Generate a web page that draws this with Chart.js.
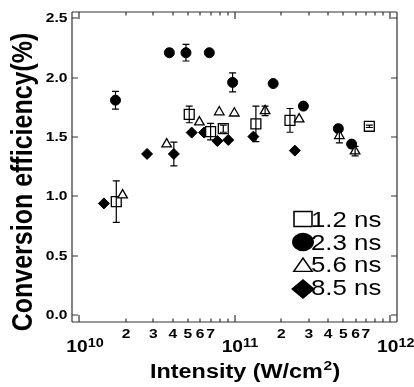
<!DOCTYPE html>
<html><head><meta charset="utf-8">
<script src="https://cdn.jsdelivr.net/npm/chart.js@4.4.1/dist/chart.umd.min.js"></script>
<style>html,body{margin:0;padding:0;background:#fff}canvas{display:block}</style>
</head><body>
<canvas id="c" width="414" height="387"></canvas>
<script>
// ---------- data ----------
const SERIES_NAMES = ['1.2 ns', '2.3 ns', '5.6 ns', '8.5 ns'];

const x12 = [1.73e10, 5.1e10, 7.0e10, 8.45e10, 1.37e11, 2.27e11, 7.36e11];
const y12 = [0.955, 1.69, 1.545, 1.57, 1.61, 1.64, 1.59];
const e12 = [0.175, 0.07, 0.07, 0.03, 0.15, 0.10, 0.01];

const x23 = [1.71e10, 3.8e10, 4.86e10, 6.87e10, 9.7e10, 1.77e11, 2.77e11, 4.65e11, 5.66e11];
const y23 = [1.81, 2.21, 2.21, 2.21, 1.96, 1.95, 1.76, 1.57, 1.44];
const e23 = [0.075, 0.03, 0.07, 0, 0.08, 0, 0, 0.03, 0.03];

const x56 = [1.9e10, 3.65e10, 5.93e10, 7.96e10, 9.95e10, 1.57e11, 2.6e11, 4.72e11, 5.96e11];
const y56 = [1.01, 1.44, 1.625, 1.71, 1.70, 1.72, 1.65, 1.51, 1.38];
const e56 = [0, 0, 0, 0, 0, 0.04, 0, 0.06, 0.04];

const x85 = [1.44e10, 2.73e10, 4.06e10, 5.29e10, 6.35e10, 7.74e10, 9.1e10, 1.32e11, 2.44e11];
const y85 = [0.94, 1.357, 1.357, 1.537, 1.537, 1.466, 1.475, 1.503, 1.385];
const e85 = [0, 0, 0.1, 0, 0, 0, 0, 0.02, 0];

// ---------- tick labels ----------
const X_DECADE_EXPONENTS = [10, 11, 12];
const X_MINOR_MULTIPLIERS = [2, 3, 4, 5, 6, 7, 8, 9];
const X_MINOR_LABELS = ['2', '3', '4', '5', '6', '7'];
const Y_TICKS = [0, 0.5, 1.0, 1.5, 2.0, 2.5];
const X_TITLE = 'Intensity (W/cm';
const X_TITLE_SUP = '2';
const X_TITLE_END = ')';
const Y_TITLE = 'Conversion efficiency(%)';

// ---------- styling helpers ----------
const FONT = '"Liberation Sans", Arial, Helvetica, sans-serif';
const SX = 1.2; // horizontal stretch of the reference picture

function pts(xs, ys) { return xs.map((v, i) => ({ x: v, y: ys[i] })); }

function txt(ctx, s, x, y, font, align, baseline) {
  ctx.save();
  ctx.font = font; ctx.textAlign = align; ctx.textBaseline = baseline;
  ctx.fillStyle = '#000';
  ctx.translate(x, y); ctx.scale(SX, 1);
  ctx.fillText(s, 0, 0);
  ctx.restore();
}
function measure(ctx, s, font) { ctx.save(); ctx.font = font; const w = ctx.measureText(s).width; ctx.restore(); return w * SX; }

function marker(ctx, style, x, y, r, fill) {
  ctx.save();
  ctx.translate(x, y); ctx.scale(SX, 1);
  ctx.beginPath();
  if (style === 'circle') ctx.arc(0, 0, r, 0, Math.PI * 2);
  else if (style === 'rect') { const s = r * Math.SQRT1_2; ctx.rect(-s, -s, 2 * s, 2 * s); }
  else if (style === 'triangle') {
    for (let k = 0; k < 3; k++) {
      const a = k * 2 * Math.PI / 3;
      const px = Math.sin(a) * r, py = -Math.cos(a) * r;
      if (k === 0) ctx.moveTo(px, py); else ctx.lineTo(px, py);
    }
    ctx.closePath();
  } else if (style === 'rectRot') {
    ctx.moveTo(-r, 0); ctx.lineTo(0, -r); ctx.lineTo(r, 0); ctx.lineTo(0, r); ctx.closePath();
  }
  ctx.fillStyle = fill; ctx.strokeStyle = '#000'; ctx.lineWidth = 1.3;
  ctx.fill(); ctx.stroke();
  ctx.restore();
}

function isMajor(v) {
  const l = Math.log10(v);
  return Math.abs(l - Math.round(l)) < 1e-6;
}
function minorLabel(v) {
  const m = Math.round(v / Math.pow(10, Math.floor(Math.log10(v) + 1e-9)));
  const s = String(m);
  return X_MINOR_LABELS.includes(s) ? s : '';
}

const ERRORS = [e12, e23, e56, e85];

function drawFrame(chart) {
  const ctx = chart.ctx, xs = chart.scales.x, ys = chart.scales.y;
  const L = Math.round(chart.chartArea.left);
  const R = Math.round(chart.chartArea.right);
  const T = Math.round(chart.chartArea.top);
  const B = Math.round(chart.chartArea.bottom);
  ctx.save();
  ctx.setLineDash([]);
  ctx.strokeStyle = '#333';
  ctx.lineWidth = 1.2;
  ctx.beginPath();
  ctx.moveTo(L, T); ctx.lineTo(R, T);
  ctx.moveTo(R, T); ctx.lineTo(R, B);
  ctx.moveTo(R, B); ctx.lineTo(L, B);
  ctx.moveTo(L, B); ctx.lineTo(L, T);
  ctx.stroke();
  ctx.beginPath();
  xs.ticks.forEach(t => {
    const px = Math.round(xs.getPixelForValue(t.value));
    const len = isMajor(t.value) ? 7 : 3.5;
    ctx.moveTo(px, B); ctx.lineTo(px, B - len);
    ctx.moveTo(px, T); ctx.lineTo(px, T + len);
  });
  ys.ticks.forEach(t => {
    const py = Math.round(ys.getPixelForValue(t.value));
    ctx.moveTo(L, py); ctx.lineTo(L + 6, py);
    ctx.moveTo(R, py); ctx.lineTo(R - 6, py);
  });
  ctx.stroke();
  ctx.restore();
}

const errorBars = {
  id: 'errorBars',
  afterDatasetsDraw(chart) {
    const ctx = chart.ctx, xs = chart.scales.x, ys = chart.scales.y;
    ctx.save();
    ctx.strokeStyle = '#000'; ctx.lineWidth = 1.2;
    chart.data.datasets.forEach((ds, di) => {
      const errs = ERRORS[di];
      ds.data.forEach((p, i) => {
        const e = errs[i];
        if (!e) return;
        const px = xs.getPixelForValue(p.x);
        const yt = ys.getPixelForValue(p.y + e);
        const yb = ys.getPixelForValue(p.y - e);
        ctx.beginPath();
        ctx.moveTo(px, yt); ctx.lineTo(px, yb);
        ctx.moveTo(px - 3.5, yt); ctx.lineTo(px + 3.5, yt);
        ctx.moveTo(px - 3.5, yb); ctx.lineTo(px + 3.5, yb);
        ctx.stroke();
      });
    });
    ctx.restore();
    drawFrame(chart);
  }
};

const frameAndText = {
  id: 'frameAndText',
  afterDraw(chart) {
    const ctx = chart.ctx, xs = chart.scales.x, ys = chart.scales.y;
    const L = Math.round(chart.chartArea.left);
    const B = Math.round(chart.chartArea.bottom);

    // y tick labels
    const yFont = 'bold 13px ' + FONT;
    ys.ticks.forEach(t => {
      txt(ctx, t.value.toFixed(1), L - 4.5, ys.getPixelForValue(t.value) + 0.5, yFont, 'right', 'middle');
    });
    // x tick labels
    const minorFont = 'bold 13px ' + FONT;
    const bigFont = 'bold 16px ' + FONT;
    const supFont = 'bold 12px ' + FONT;
    xs.ticks.forEach(t => {
      const px = xs.getPixelForValue(t.value);
      if (isMajor(t.value)) {
        const exp = String(Math.round(Math.log10(t.value)));
        const x0 = px - 13;
        txt(ctx, '10', x0, B + 30, bigFont, 'left', 'alphabetic');
        txt(ctx, exp, x0 + measure(ctx, '10', bigFont), B + 25, supFont, 'left', 'alphabetic');
      } else {
        const lb = minorLabel(t.value);
        if (lb) txt(ctx, lb, px, B + 16, minorFont, 'center', 'alphabetic');
      }
    });
    // x title
    const tFont = 'bold 19.5px ' + FONT;
    const tSup = 'bold 13px ' + FONT;
    let tx = 150, ty = 378;
    txt(ctx, X_TITLE, tx, ty, tFont, 'left', 'alphabetic'); tx += measure(ctx, X_TITLE, tFont);
    txt(ctx, X_TITLE_SUP, tx + 0.5, ty - 8, tSup, 'left', 'alphabetic'); tx += measure(ctx, X_TITLE_SUP, tSup) + 1;
    txt(ctx, X_TITLE_END, tx, ty, tFont, 'left', 'alphabetic');
    // y title (rotated, stretched horizontally)
    ctx.save();
    ctx.font = 'bold 25px ' + FONT; ctx.fillStyle = '#000';
    ctx.textAlign = 'center'; ctx.textBaseline = 'middle';
    ctx.translate(24, 182); ctx.scale(SX, 1); ctx.rotate(-Math.PI / 2);
    ctx.fillText(Y_TITLE, 0, 0);
    ctx.restore();

    // legend
    const lgFont = '21.5px ' + FONT;
    const rows = [
      { style: 'rect', r: 10.6, fill: '#fff', y: 219 },
      { style: 'circle', r: 8.5, fill: '#000', y: 242 },
      { style: 'triangle', r: 8.9, fill: '#fff', y: 267 },
      { style: 'rectRot', r: 9, fill: '#000', y: 289 }
    ];
    rows.forEach((row, i) => {
      marker(ctx, row.style, 303, row.y, row.r, row.fill);
      const base = [227, 250, 272, 295][i];
      txt(ctx, SERIES_NAMES[i], 311, base, lgFont, 'left', 'alphabetic');
    });
  }
};

const xTickValues = [];
X_DECADE_EXPONENTS.forEach((ex, k) => {
  xTickValues.push(Math.pow(10, ex));
  if (k < X_DECADE_EXPONENTS.length - 1) {
    X_MINOR_MULTIPLIERS.forEach(m => xTickValues.push(m * Math.pow(10, ex)));
  }
});

new Chart(document.getElementById('c'), {
  type: 'scatter',
  data: {
    datasets: [
      { label: SERIES_NAMES[0], data: pts(x12, y12), pointStyle: 'rect', pointRadius: 7, backgroundColor: '#fff', borderColor: '#000', borderWidth: 1.3, order: 1 },
      { label: SERIES_NAMES[1], data: pts(x23, y23), pointStyle: 'circle', pointRadius: 5, backgroundColor: '#000', borderColor: '#000', borderWidth: 1, order: 2 },
      { label: SERIES_NAMES[2], data: pts(x56, y56), pointStyle: 'triangle', pointRadius: 5.5, backgroundColor: '#fff', borderColor: '#000', borderWidth: 1.3, order: 0 },
      { label: SERIES_NAMES[3], data: pts(x85, y85), pointStyle: 'rectRot', pointRadius: 5.5, backgroundColor: '#000', borderColor: '#000', borderWidth: 1, order: 3 }
    ]
  },
  options: {
    responsive: false,
    animation: false,
    devicePixelRatio: 1,
    layout: { padding: { top: 12, right: 17, left: 0, bottom: 0 } },
    plugins: { legend: { display: false }, tooltip: { enabled: false } },
    scales: {
      x: {
        type: 'logarithmic',
        min: 8.975e9, max: 1.109e12,
        grid: { display: false }, border: { display: false },
        ticks: { display: false },
        afterBuildTicks(s) { s.ticks = xTickValues.map(v => ({ value: v })); },
        afterFit(s) { s.height = 65; }
      },
      y: {
        type: 'linear',
        min: -0.059, max: 2.553,
        grid: { display: false }, border: { display: false },
        ticks: { display: false },
        afterBuildTicks(s) { s.ticks = Y_TICKS.map(v => ({ value: v })); },
        afterFit(s) { s.width = 72; }
      }
    }
  },
  plugins: [errorBars, frameAndText]
});
</script>
</body></html>
